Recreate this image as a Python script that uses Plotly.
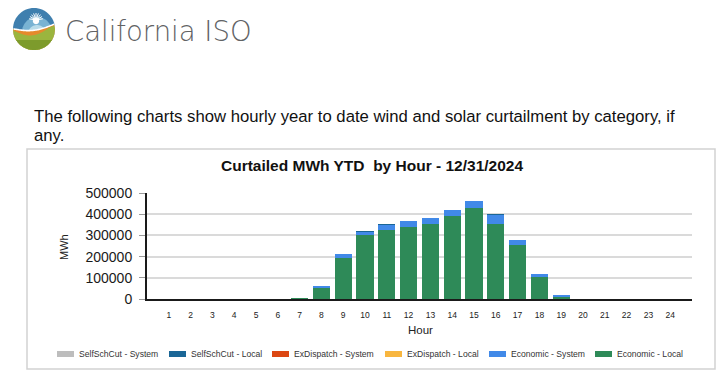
import math
import plotly.graph_objects as go

# ---------------- data ----------------
hours = list(range(1, 25))
series_names = ["SelfSchCut - System", "SelfSchCut - Local", "ExDispatch - System",
                "ExDispatch - Local", "Economic - System", "Economic - Local"]
selfsch_system = [0] * 24
selfsch_local = [0, 0, 0, 0, 0, 0, 0, 0, 0, 2000, 3000, 0, 0, 0, 0, 3000, 0, 0, 0, 0, 0, 0, 0, 0]
exdispatch_system = [0] * 24
exdispatch_local = [0] * 24
economic_system = [0, 0, 0, 0, 0, 0, 0, 8000, 16000, 17000, 23000, 27000, 28000, 31000,
                   35000, 41000, 23000, 13000, 5000, 0, 0, 0, 0, 0]
economic_local = [0, 0, 0, 0, 0, 0, 1500, 53000, 195000, 300000, 327000, 342000, 355000,
                  391000, 427000, 356000, 255000, 106000, 10000, 0, 0, 0, 0, 0]
y_ticks = [0, 100000, 200000, 300000, 400000, 500000]

colors = ["#bdbdbd", "#1a6696", "#dc4712", "#f8b63f", "#4189e8", "#2e8a58"]
values = [selfsch_system, selfsch_local, exdispatch_system, exdispatch_local,
          economic_system, economic_local]

title_text = "Curtailed MWh YTD \u00a0by Hour - 12/31/2024"
para1 = "The following charts show hourly year to date wind and solar curtailment by category, if"
para2 = "any."

# ---------------- geometry helpers (page pixels -> paper) ----------------
WIDTH, HEIGHT = 720, 374
L, R, T, B = 147, 28, 193, 75
W = WIDTH - L - R
H = HEIGHT - T - B
BOT = HEIGHT - B


def px(x):
    return (x - L) / W


def py(y):
    return (BOT - y) / H


def path(points, close=True):
    s = "M " + " L ".join(f"{px(x):.5f},{py(y):.5f}" for x, y in points)
    return s + (" Z" if close else "")


fig = go.Figure()
# stack: Economic - Local at the bottom
for name, vals, col in reversed(list(zip(series_names, values, colors))):
    fig.add_trace(go.Bar(x=hours, y=vals, name=name, marker=dict(color=col, line=dict(width=0)),
                         width=0.79, showlegend=False))

shapes = []
annotations = []

# panel border
shapes.append(dict(type="rect", xref="paper", yref="paper", x0=px(27), x1=px(715),
                   y0=py(149), y1=py(369), line=dict(color="#d2d2d2", width=1.5),
                   fillcolor="rgba(0,0,0,0)", layer="below"))

# ---------------- logo ----------------
cx, cy, r = 34, 29, 21


def circle_pts(x0, y0, rad, n=60):
    return [(x0 + rad * math.cos(2 * math.pi * k / n), y0 + rad * math.sin(2 * math.pi * k / n)) for k in range(n)]


def region_below(f, n=50):
    top, bot = [], []
    for k in range(n + 1):
        x = cx - r + 2 * r * k / n
        h = math.sqrt(max(r * r - (x - cx) ** 2, 0))
        yt = min(max(f(x), cy - h), cy + h)
        top.append((x, yt))
        bot.append((x, cy + h))
    return top + bot[::-1]


def tpos(x):
    return (x - (cx - r)) / (2 * r)


def f_white(x):
    t = tpos(x)
    return cy - 1 + 4 * math.sin(math.pi * t) - 5 * t


def f_orange(x):
    return f_white(x) + 1.6


def f_green(x):
    t = tpos(x)
    return f_white(x) + 2.2 + 3.5 * math.sin(math.pi * min(t * 1.15, 1))


shapes.append(dict(type="path", xref="paper", yref="paper", path=path(circle_pts(cx, cy, r)),
                   fillcolor="#3f7fae", line=dict(width=0)))
shapes.append(dict(type="path", xref="paper", yref="paper", path=path(circle_pts(cx + 3, cy + 3, 15)),
                   fillcolor="#79b3d3", line=dict(width=0)))
shapes.append(dict(type="path", xref="paper", yref="paper", path=path(circle_pts(cx + 3, cy + 5, 9)),
                   fillcolor="#b9dcea", line=dict(width=0)))
# sun
sx, sy = 36, 20
for k in range(9):
    a = math.pi + math.pi * (k + 0.5) / 9
    shapes.append(dict(type="line", xref="paper", yref="paper",
                       x0=px(sx), y0=py(sy), x1=px(sx + 7 * math.cos(a)), y1=py(sy + 7 * math.sin(a)),
                       line=dict(color="white", width=1)))
shapes.append(dict(type="path", xref="paper", yref="paper", path=path(circle_pts(sx, sy + 1, 3.2, 24)),
                   fillcolor="white", line=dict(width=0)))
shapes.append(dict(type="path", xref="paper", yref="paper", path=path(region_below(f_white)),
                   fillcolor="#ffffff", line=dict(width=0)))
shapes.append(dict(type="path", xref="paper", yref="paper", path=path(region_below(f_orange)),
                   fillcolor="#e58a2c", line=dict(width=0)))
shapes.append(dict(type="path", xref="paper", yref="paper", path=path(region_below(f_green)),
                   fillcolor="#9bb53e", line=dict(width=0)))
shapes.append(dict(type="path", xref="paper", yref="paper", path=path(region_below(lambda x: cy + 11)),
                   fillcolor="#7d9b2c", line=dict(width=0)))

annotations.append(dict(text="California ISO", xref="paper", yref="paper", x=px(64), y=py(31),
                        xanchor="left", yanchor="middle", showarrow=False, borderpad=0,
                        font=dict(family="DejaVu Sans", size=27.5, color="#616264", weight=200)))

# paragraph
annotations.append(dict(text=para1, xref="paper", yref="paper", x=px(33), y=py(116),
                        xanchor="left", yanchor="middle", showarrow=False, borderpad=0,
                        font=dict(family="Liberation Sans", size=16.7, color="#111111")))
annotations.append(dict(text=para2, xref="paper", yref="paper", x=px(33), y=py(135.5),
                        xanchor="left", yanchor="middle", showarrow=False, borderpad=0,
                        font=dict(family="Liberation Sans", size=16.7, color="#111111")))

# chart title & axis titles
annotations.append(dict(text="<b>" + title_text + "</b>", xref="paper", yref="paper", x=px(372), y=py(165),
                        xanchor="center", yanchor="middle", showarrow=False, borderpad=0,
                        font=dict(family="Liberation Sans", size=15.5, color="#111111")))
annotations.append(dict(text="MWh", xref="paper", yref="paper", x=px(64), y=py(247),
                        xanchor="center", yanchor="middle", showarrow=False, textangle=-90, borderpad=0,
                        font=dict(family="Liberation Sans", size=11, color="#222222")))
annotations.append(dict(text="Hour", xref="paper", yref="paper", x=px(420), y=py(330),
                        xanchor="center", yanchor="middle", showarrow=False, borderpad=0,
                        font=dict(family="Liberation Sans", size=11.5, color="#222222")))

# legend (custom)
leg_x = [57, 169, 272, 385, 489, 595]
for name, col, x0 in zip(series_names, colors, leg_x):
    shapes.append(dict(type="rect", xref="paper", yref="paper", x0=px(x0), x1=px(x0 + 17),
                       y0=py(357), y1=py(351), fillcolor=col, line=dict(width=0)))
    annotations.append(dict(text=name, xref="paper", yref="paper", x=px(x0 + 20.5), y=py(354),
                            xanchor="left", yanchor="middle", showarrow=False, borderpad=0,
                            font=dict(family="Liberation Sans", size=8.6, color="#333333")))

fig.update_layout(
    width=WIDTH, height=HEIGHT,
    margin=dict(l=L, r=R, t=T, b=B, pad=0),
    paper_bgcolor="white", plot_bgcolor="white",
    barmode="stack",
    bargap=0.21,
    shapes=shapes,
    annotations=annotations,
    showlegend=False,
    xaxis=dict(range=[0, 25], tickmode="array", tickvals=hours, ticktext=[str(h) for h in hours],
               showgrid=False, zeroline=False, showline=True, linecolor="#1a1a1a", linewidth=2,
               ticks="", tickfont=dict(family="Liberation Sans", size=8.5, color="#222222"),
               ticklabelstandoff=7),
    yaxis=dict(range=[0, 500000], tickmode="array", tickvals=y_ticks,
               ticktext=[str(v) for v in y_ticks],
               showgrid=True, gridcolor="#dadada", gridwidth=1.5,
               zeroline=False, showline=True, linecolor="#1a1a1a", linewidth=2,
               ticks="outside", ticklen=6, tickcolor="#9a9a9a", tickwidth=1,
               ticklabelstandoff=4,
               tickfont=dict(family="Liberation Sans", size=14, color="#1a1a1a")),
)

fig.write_html("out.html", config={"displayModeBar": False},
               post_script="document.body.style.margin='0';document.body.style.overflow='hidden';")
